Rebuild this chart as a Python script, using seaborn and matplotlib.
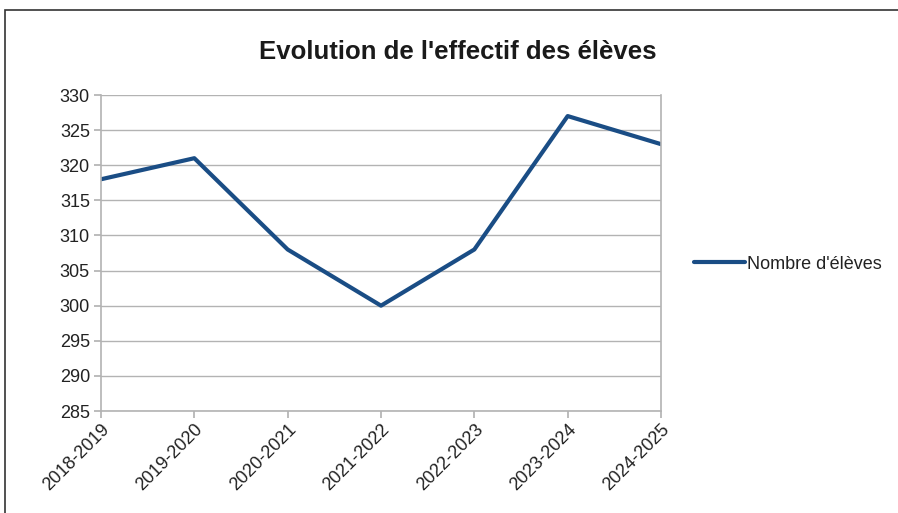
import matplotlib
matplotlib.use("Agg")
import matplotlib.pyplot as plt
import seaborn as sns
import pandas as pd
from matplotlib.patches import Rectangle

annees = ["2018-2019", "2019-2020", "2020-2021", "2021-2022", "2022-2023", "2023-2024", "2024-2025"]
effectifs = [318, 321, 308, 300, 308, 327, 323]
yticks = [285, 290, 295, 300, 305, 310, 315, 320, 325, 330]

sns.set_theme(style="white")
plt.rcParams['font.family'] = ['Liberation Sans', 'DejaVu Sans']

df = pd.DataFrame({"Année": annees, "Nombre d'élèves": effectifs})

fig = plt.figure(figsize=(8.98, 5.13), dpi=100)
fig.patch.set_facecolor("white")
fig.patches.append(Rectangle((5/898, -0.1), 2.0, (513-10)/513 + 0.1, transform=fig.transFigure,
                             fill=False, edgecolor="#333333", linewidth=1.2))
ax = fig.add_axes([101/898, 1-411/513, (661-101)/898, (411-95)/513])

x = list(range(len(annees)))
sns.lineplot(x=x, y=df["Nombre d'élèves"], ax=ax, color="#1a4d85", linewidth=3,
             label="Nombre d'élèves", sort=False)

ax.set_xlim(0, len(annees)-1)
ax.set_ylim(285, 330)
ax.set_yticks(yticks)
ax.set_xticks(x)
ax.set_xticklabels(annees, rotation=45, ha="right", rotation_mode="anchor", fontsize=13)
ax.tick_params(axis="y", labelsize=13, length=5, color="#b3b3b3", direction="out", left=True, pad=3)
ax.tick_params(axis="x", length=5, color="#b3b3b3", direction="out", bottom=True, pad=2)
ax.grid(axis="y", color="#b3b3b3", linewidth=1)
for s in ["left", "bottom", "right"]:
    ax.spines[s].set_color("#b3b3b3")
    ax.spines[s].set_linewidth(1.2)
ax.spines["top"].set_visible(False)
ax.set_xlabel("")
ax.set_ylabel("")
for lab in ax.get_xticklabels():
    lab.set_color("#222222")
for lab in ax.get_yticklabels():
    lab.set_color("#222222")

fig.text(458/898, 1-52/513, "Evolution de l'effectif des élèves", ha="center", va="center",
         fontsize=18.5, fontweight="bold", color="#1a1a1a")

leg = ax.legend(loc="center left", bbox_to_anchor=(1.03, 0.465), frameon=False, fontsize=13,
                handlelength=2.8, handletextpad=0.15)
for t in leg.get_texts():
    t.set_color("#222222")

fig.savefig("out.png", dpi=100)
